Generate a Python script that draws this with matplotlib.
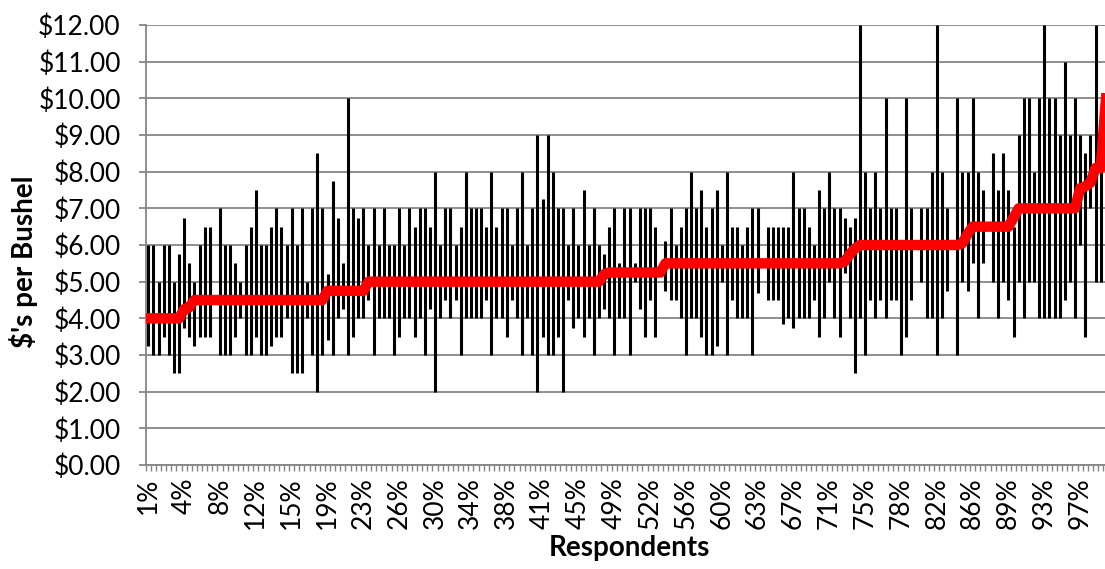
import matplotlib.pyplot as plt
import numpy as np
from matplotlib.ticker import FixedLocator, StrMethodFormatter

nan = np.nan

# lowest / highest price each respondent named ($ per bushel), one entry per respondent
low = [3.25, 3.0, 3.0, 3.5, 3.0, 2.5, 2.5, 3.75, 3.5, 3.25,
       3.5, 3.5, 3.5, nan, 3.0, 3.0, 3.0, 3.5, 4.0, 3.0,
       3.0, 3.5, 3.0, 3.0, 3.25, 3.5, 3.5, 4.0, 2.5, 2.5,
       2.5, 4.0, 3.0, 2.0, 3.0, 3.4, 3.0, 4.0, 4.25, 3.0,
       3.5, 4.0, 4.0, 4.5, 3.0, 4.0, 4.0, 4.0, 3.0, 3.5,
       4.0, 4.0, 3.5, 4.0, 3.0, 4.25, 2.0, 4.0, 4.5, 4.0,
       4.5, 3.0, 4.0, 4.0, 4.0, 4.0, 4.5, 3.0, 4.0, 4.0,
       3.5, 4.5, 4.0, 3.0, 4.0, 3.0, 2.0, 3.5, 3.0, 3.0,
       3.5, 2.0, 4.5, 3.75, 4.0, 3.5, 4.0, 3.0, 4.0, 4.25,
       4.0, 3.0, 4.0, 4.0, 3.0, 5.0, 4.25, 3.5, 4.5, 3.5,
       nan, 4.75, 4.5, 4.5, 4.0, 3.0, 4.0, 4.0, 3.5, 3.0,
       3.0, 3.25, 5.0, 3.0, 4.5, 4.0, 4.0, 4.0, 3.0, 4.7,
       nan, 4.5, 4.5, 4.5, 3.85, 4.0, 3.75, 4.0, 4.0, 4.0,
       4.5, 3.5, 4.0, 5.0, 4.0, 3.5, 5.25, 4.0, 2.5, 4.0,
       3.0, 4.5, 4.0, 4.5, 4.0, 4.5, 4.5, 3.0, 3.5, 4.5,
       nan, 5.0, 4.0, 4.0, 3.0, 4.0, 4.75, nan, 3.0, 5.0,
       4.75, 5.5, 4.0, 5.5, nan, 5.0, 4.0, 5.0, 4.5, 3.5,
       5.0, 4.0, 5.0, 5.0, 4.0, 4.0, 4.0, 4.0, 4.0, 4.5,
       5.0, 4.0, 6.0, 3.5, 7.0, 5.0, 5.0, nan, nan]

high = [6.0, 6.0, 5.0, 6.0, 6.0, 5.0, 5.75, 6.75, 5.5, 5.0,
        6.0, 6.5, 6.5, nan, 7.0, 6.0, 6.0, 5.5, 5.0, 6.0,
        6.5, 7.5, 6.0, 6.0, 6.5, 7.0, 6.5, 6.0, 7.0, 6.0,
        7.0, 5.0, 7.0, 8.5, 7.0, 5.2, 7.75, 6.75, 5.5, 10.0,
        7.0, 6.75, 7.0, 6.0, 7.0, 6.0, 7.0, 6.0, 6.0, 7.0,
        6.0, 7.0, 6.5, 7.0, 7.0, 6.5, 8.0, 6.0, 7.0, 7.0,
        6.0, 6.5, 8.0, 7.0, 7.0, 7.0, 6.5, 8.0, 6.5, 7.0,
        7.0, 6.0, 7.0, 8.0, 6.0, 7.0, 9.0, 7.25, 9.0, 8.0,
        7.0, 7.0, 6.0, 7.0, 6.0, 7.5, 6.0, 7.0, 6.0, 5.75,
        6.5, 7.0, 5.5, 7.0, 7.0, 5.5, 7.0, 7.0, 7.0, 6.5,
        nan, 6.1, 7.0, 6.0, 6.5, 7.0, 8.0, 7.0, 7.5, 6.5,
        7.0, 7.5, 6.0, 8.0, 6.5, 6.5, 6.0, 6.5, 7.0, 7.0,
        nan, 6.5, 6.5, 6.5, 6.5, 6.5, 8.0, 7.0, 7.0, 6.5,
        6.0, 7.5, 7.0, 8.0, 7.0, 7.0, 6.75, 6.5, 6.75, 12.0,
        8.0, 7.0, 8.0, 7.0, 10.0, 7.0, 7.0, 6.0, 10.0, 7.0,
        nan, 7.0, 7.0, 8.0, 12.0, 8.0, 7.0, nan, 10.0, 8.0,
        8.0, 10.0, 8.0, 7.5, nan, 8.5, 7.5, 8.5, 7.5, 6.5,
        9.0, 10.0, 10.0, 8.0, 10.0, 12.0, 10.0, 10.0, 9.0, 11.0,
        9.0, 10.0, 9.0, 8.5, 9.0, 12.0, 8.0, nan, nan]

# sorted central price (red line)
mid = [4.0, 4.0, 4.0, 4.0, 4.0, 4.0, 4.0, 4.25, 4.3, 4.5,
       4.5, 4.5, 4.5, 4.5, 4.5, 4.5, 4.5, 4.5, 4.5, 4.5,
       4.5, 4.5, 4.5, 4.5, 4.5, 4.5, 4.5, 4.5, 4.5, 4.5,
       4.5, 4.5, 4.5, 4.5, 4.5, 4.75, 4.75, 4.75, 4.75, 4.75,
       4.75, 4.75, 4.75, 5.0, 5.0, 5.0, 5.0, 5.0, 5.0, 5.0,
       5.0, 5.0, 5.0, 5.0, 5.0, 5.0, 5.0, 5.0, 5.0, 5.0,
       5.0, 5.0, 5.0, 5.0, 5.0, 5.0, 5.0, 5.0, 5.0, 5.0,
       5.0, 5.0, 5.0, 5.0, 5.0, 5.0, 5.0, 5.0, 5.0, 5.0,
       5.0, 5.0, 5.0, 5.0, 5.0, 5.0, 5.0, 5.0, 5.0, 5.2,
       5.25, 5.25, 5.25, 5.25, 5.25, 5.25, 5.25, 5.25, 5.25, 5.25,
       5.25, 5.5, 5.5, 5.5, 5.5, 5.5, 5.5, 5.5, 5.5, 5.5,
       5.5, 5.5, 5.5, 5.5, 5.5, 5.5, 5.5, 5.5, 5.5, 5.5,
       5.5, 5.5, 5.5, 5.5, 5.5, 5.5, 5.5, 5.5, 5.5, 5.5,
       5.5, 5.5, 5.5, 5.5, 5.5, 5.5, 5.55, 5.75, 5.9, 6.0,
       6.0, 6.0, 6.0, 6.0, 6.0, 6.0, 6.0, 6.0, 6.0, 6.0,
       6.0, 6.0, 6.0, 6.0, 6.0, 6.0, 6.0, 6.0, 6.0, 6.05,
       6.3, 6.5, 6.5, 6.5, 6.5, 6.5, 6.5, 6.5, 6.5, 6.75,
       7.0, 7.0, 7.0, 7.0, 7.0, 7.0, 7.0, 7.0, 7.0, 7.0,
       7.0, 7.0, 7.55, 7.6, 7.7, 8.1, 8.1, 9.9, 12.0]

tick_labels = ['1%', '4%', '8%', '12%', '15%', '19%', '23%', '26%', '30%',
               '34%', '38%', '41%', '45%', '49%', '52%', '56%', '60%', '63%',
               '67%', '71%', '75%', '78%', '82%', '86%', '89%', '93%', '97%']

plt.rcParams['font.family'] = ['Lato', 'DejaVu Sans']

n = len(mid)
x = np.arange(1, n + 1)
grey = '#868686'

fig = plt.figure(figsize=(11.05, 5.69), dpi=100)
# plot area runs a little past the right edge, like the original crop
ax = fig.add_axes([145.74 / 1105, 104 / 569, 967.7 / 1105, 440 / 569])

ax.vlines(x, low, high, colors='black', linewidth=2.2, zorder=3)
ax.plot(x, mid, color='red', linewidth=7.5, solid_joinstyle='round', zorder=4)

ax.set_xlim(0.5, n + 0.5)
ax.set_ylim(0, 12)
ax.set_yticks(np.arange(0, 13, 1))
ax.yaxis.set_major_formatter(StrMethodFormatter('${x:.2f}'))
ax.grid(axis='y', color=grey, linewidth=1.3, zorder=0)
ax.set_axisbelow(True)

ax.set_xticks(x[::7])
ax.set_xticklabels(tick_labels, rotation=90)
ax.xaxis.set_minor_locator(FixedLocator(np.arange(0.5, n + 1, 1)))
ax.tick_params(axis='x', which='major', length=0, pad=9, labelsize=19)
ax.tick_params(axis='x', which='minor', length=4, width=1, color=grey, direction='out')
ax.tick_params(axis='y', length=5, width=1.3, color=grey, pad=13, labelsize=19)

for s in ['top', 'right']:
    ax.spines[s].set_visible(False)
for s in ['left', 'bottom']:
    ax.spines[s].set_color(grey)
    ax.spines[s].set_linewidth(1.3)

fig.text(24 / 1105, (569 - 262) / 569, "$'s per Bushel", rotation=90,
         ha='center', va='center', fontsize=20, fontweight='bold')
fig.text(629.6 / 1105, 21 / 569, 'Respondents', ha='center', va='center',
         fontsize=20, fontweight='bold')

fig.savefig('out.png', dpi=100)
